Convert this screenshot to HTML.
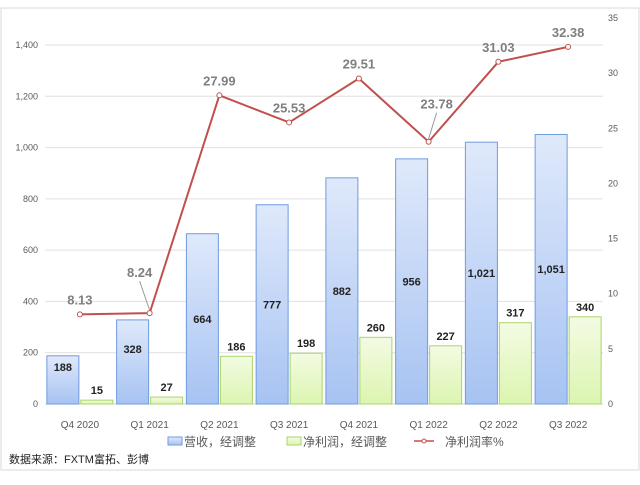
<!DOCTYPE html>
<html><head><meta charset="utf-8"><style>
body{margin:0;background:#fff;font-family:"Liberation Sans","Noto Sans CJK SC",sans-serif}
svg text{font-family:"Liberation Sans","Noto Sans CJK SC",sans-serif}
</style></head><body>
<svg id="c" width="640" height="480" viewBox="0 0 640 480">
<defs>
<linearGradient id="gb" x1="0" y1="0" x2="0" y2="1"><stop offset="0" stop-color="#dfe9fb"/><stop offset="1" stop-color="#a7c3f2"/></linearGradient>
<linearGradient id="gg" x1="0" y1="0" x2="0" y2="1"><stop offset="0" stop-color="#f3fbe3"/><stop offset="1" stop-color="#dcf5b0"/></linearGradient>
</defs>
<rect x="1" y="8" width="638" height="462" fill="#fff" stroke="#d9d9d9"/>
<g id="grid"></g><g id="bars"></g><g id="line"></g><g id="labels"></g>
<g font-size="12" fill="#595959">
<rect x="168" y="437" width="14" height="8" fill="url(#gb)" stroke="#6f9be0"/>
<text x="184" y="446">营收，经调整</text>
<rect x="287" y="437" width="14" height="8" fill="url(#gg)" stroke="#a9d46a"/>
<text x="303" y="446">净利润，经调整</text>
<line x1="414" y1="441" x2="434" y2="441" stroke="#c0504d" stroke-width="1.5"/><circle cx="424" cy="441" r="2" fill="#fff" stroke="#c0504d"/>
<text x="445" y="446">净利润率%</text>
</g>
<text x="9" y="463" font-size="11" fill="#222">数据来源：FXTM富拓、彭博</text>
</svg>
<script>
const categories=["Q4 2020","Q1 2021","Q2 2021","Q3 2021","Q4 2021","Q1 2022","Q2 2022","Q3 2022"];
const revenue=[188,328,664,777,882,956,1021,1051];
const profit=[15,27,186,198,260,227,317,340];
const margin=[8.13,8.24,27.99,25.53,29.51,23.78,31.03,32.38];
const leftTicks=[0,200,400,600,800,1000,1200,1400];
const rightTicks=[0,5,10,15,20,25,30,35];
const NS="http://www.w3.org/2000/svg";
const X0=45,X1=603,Y0=404;
const yL=v=>Y0-v*(359/1400);
const yR=v=>Y0-v*(386/35);
const step=(X1-X0)/categories.length;
const xc=i=>X0+step*(i+0.5);
function mk(t,a,p){const e=document.createElementNS(NS,t);for(const k in a)e.setAttribute(k,a[k]);p.appendChild(e);return e;}
const fmt=v=>v.toLocaleString("en-US");
const grid=document.getElementById("grid");
leftTicks.forEach(v=>{
 if(v>0){const l=mk("line",{x1:X0,x2:X1,y1:yL(v),y2:yL(v),stroke:"#e0e0e0"},grid);
 
 }
 const t=mk("text",{x:38,y:yL(v)+3,"text-anchor":"end","font-size":"9",fill:"#595959"},grid);t.textContent=fmt(v);
 
 
});
rightTicks.forEach(v=>{
 const t=mk("text",{x:608,y:yR(v)+3,"font-size":"9",fill:"#595959"},grid);t.textContent=v;
 
 
});
mk("line",{x1:X0,x2:X1,y1:Y0,y2:Y0,stroke:"#d0d0d0"},grid);
const bars=document.getElementById("bars"),labels=document.getElementById("labels");
categories.forEach((c,i)=>{
 const t=mk("text",{x:xc(i),y:428,"text-anchor":"middle","font-size":"10",fill:"#595959"},labels);t.textContent=c;
 
 
 const bw=32;
 const b=mk("rect",{x:xc(i)-bw-1,y:yL(revenue[i]),width:bw,height:Y0-yL(revenue[i]),fill:"url(#gb)",stroke:"#6f9be0"},bars);
 
 
 const g=mk("rect",{x:xc(i)+1,y:yL(profit[i]),width:bw,height:Y0-yL(profit[i]),fill:"url(#gg)",stroke:"#a9d46a"},bars);
 
 
 const ry=Math.min((yL(revenue[i])+Y0)/2,yL(revenue[i])+12)+4;
 const rl=mk("text",{x:xc(i)-bw/2-1,y:Math.max(ry,(yL(revenue[i])+Y0)/2+4)-(revenue[i]<400?13:0),"text-anchor":"middle","font-size":"11","font-weight":"bold",fill:"#222"},labels);rl.textContent=fmt(revenue[i]);
 
 
 const pl=mk("text",{x:xc(i)+bw/2+1,y:yL(profit[i])-6,"text-anchor":"middle","font-size":"11","font-weight":"bold",fill:"#222"},labels);pl.textContent=profit[i];
 
 
});
const line=document.getElementById("line");
const pl=mk("polyline",{points:margin.map((v,i)=>xc(i)+","+yR(v)).join(" "),fill:"none",stroke:"#c0504d","stroke-width":"2"},line);


margin.forEach((v,i)=>{
 const c=mk("circle",{cx:xc(i),cy:yR(v),r:2.5,fill:"#fff",stroke:"#c0504d"},line);
 
 
 let ly=yR(v)-10;
 if(i===1){ly=yR(v)-36;mk("line",{x1:xc(i),y1:yR(v)-3,x2:xc(i)-10,y2:ly+4,stroke:"#999"},line);}
 if(i===5){ly=yR(v)-33;mk("line",{x1:xc(i),y1:yR(v)-3,x2:xc(i)+8,y2:ly+4,stroke:"#999"},line);}
 const t=mk("text",{x:xc(i)+(i===1?-10:0)+(i===5?8:0),y:ly,"text-anchor":"middle","font-size":"13","font-weight":"bold",fill:"#7f7f7f"},labels);t.textContent=v.toFixed(2);
 
 
});
</script>
</body></html>
